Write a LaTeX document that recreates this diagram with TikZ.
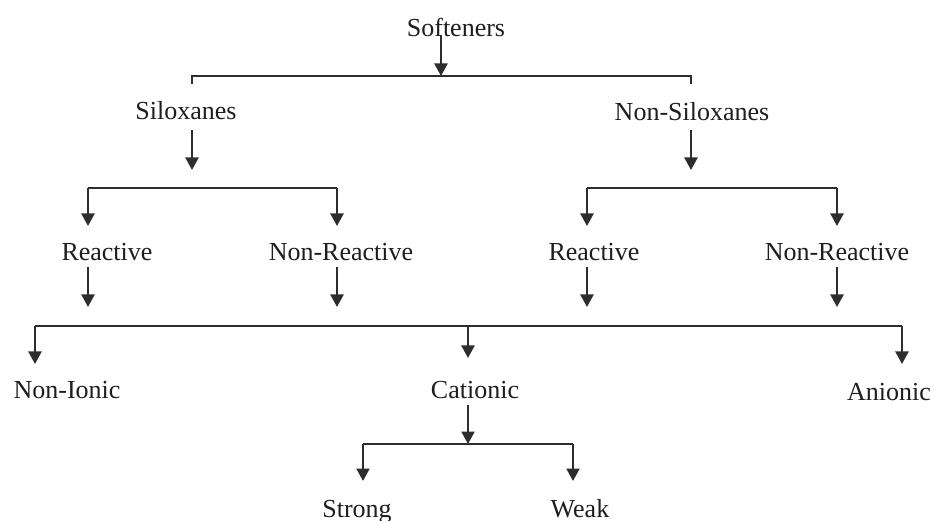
\documentclass[tikz,border=0pt]{standalone}
\usepackage{fontspec}
\setmainfont{Liberation Serif}
\usetikzlibrary{arrows.meta}
\definecolor{ink}{RGB}{30,30,30}
\definecolor{wire}{RGB}{45,45,45}
\begin{document}
\begin{tikzpicture}[x=1pt,y=-1pt,
  lbl/.style={inner sep=0pt,anchor=base,text=ink,font=\fontsize{26}{30}\selectfont},
  wireline/.style={draw=wire,line width=2.2pt},
  arr/.style={draw=wire,line width=2.2pt,-{Triangle[width=13pt,length=12.5pt]}}]
\useasboundingbox[fill=white] (0,0) rectangle (935,521);
% nodes
\node[lbl] (soft) at (456,37) {Softeners};
\node[lbl] (sil) at (186,120) {Siloxanes};
\node[lbl] (nsil) at (692,121) {Non-Siloxanes};
\node[lbl] (r1) at (107,261) {Reactive};
\node[lbl] (nr1) at (341,261) {Non-Reactive};
\node[lbl] (r2) at (594,261) {Reactive};
\node[lbl] (nr2) at (837,261) {Non-Reactive};
\node[lbl] (nion) at (67,399) {Non-Ionic};
\node[lbl] (cat) at (475,399) {Cationic};
\node[lbl] (anion) at (889,400) {Anionic};
\node[lbl] (strong) at (357,517) {Strong};
\node[lbl] (weak) at (580,517) {Weak};
% coordinates
\coordinate (s0) at (441,35);
\coordinate (s1) at (441,76);
\coordinate (tbl) at (192,76);
\coordinate (tbr) at (691,76);
\coordinate (tl) at (192,84);
\coordinate (tr) at (691,84);
\coordinate (sa0) at (192,130);
\coordinate (sa1) at (192,170);
\coordinate (na0) at (691,130);
\coordinate (na1) at (691,170);
\coordinate (l1) at (88,188);
\coordinate (l2) at (337,188);
\coordinate (l3) at (587,188);
\coordinate (l4) at (837,188);
\coordinate (l1t) at (88,226);
\coordinate (l2t) at (337,226);
\coordinate (l3t) at (587,226);
\coordinate (l4t) at (837,226);
\coordinate (d1) at (88,267);
\coordinate (d2) at (337,267);
\coordinate (d3) at (587,267);
\coordinate (d4) at (837,267);
\coordinate (d1t) at (88,307);
\coordinate (d2t) at (337,307);
\coordinate (d3t) at (587,307);
\coordinate (d4t) at (837,307);
\coordinate (bl) at (35,326);
\coordinate (bc) at (468,326);
\coordinate (br) at (902,326);
\coordinate (blt) at (35,364);
\coordinate (bct) at (468,358);
\coordinate (brt) at (902,364);
\coordinate (c0) at (468,405);
\coordinate (c1) at (468,444);
\coordinate (cl) at (363,444);
\coordinate (cr) at (573,444);
\coordinate (clt) at (363,481);
\coordinate (crt) at (573,481);
% connectors
\draw[arr] (s0) -- (s1);
\draw[wireline] (tl) -- (tbl) -- (tbr) -- (tr);
\draw[arr] (sa0) -- (sa1);
\draw[arr] (na0) -- (na1);
\draw[wireline] (l1) -- (l2);
\draw[wireline] (l3) -- (l4);
\draw[arr] (l1) -- (l1t);
\draw[arr] (l2) -- (l2t);
\draw[arr] (l3) -- (l3t);
\draw[arr] (l4) -- (l4t);
\draw[arr] (d1) -- (d1t);
\draw[arr] (d2) -- (d2t);
\draw[arr] (d3) -- (d3t);
\draw[arr] (d4) -- (d4t);
\draw[wireline] (bl) -- (br);
\draw[arr] (bl) -- (blt);
\draw[arr] (bc) -- (bct);
\draw[arr] (br) -- (brt);
\draw[arr] (c0) -- (c1);
\draw[wireline] (cl) -- (cr);
\draw[arr] (cl) -- (clt);
\draw[arr] (cr) -- (crt);
\end{tikzpicture}
\end{document}
